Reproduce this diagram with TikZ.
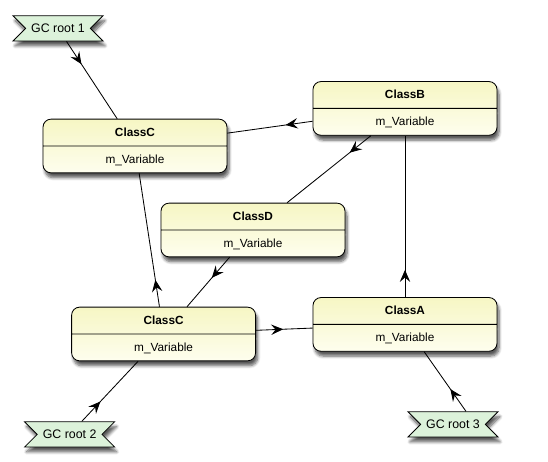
\documentclass[tikz,border=0pt]{standalone}
\usepackage{fontspec}
\setmainfont{Liberation Sans}
\usetikzlibrary{shapes.multipart,shapes.symbols,arrows.meta,decorations.markings,shadows.blur}

\definecolor{clstop}{RGB}{246,246,196}
\definecolor{clsbot}{RGB}{254,254,238}
\definecolor{rootfill}{RGB}{220,242,218}
\newcommand{\cstrut}{\rule[-0.12cm]{0pt}{0.42cm}}

\begin{document}
\begin{tikzpicture}[
  cls/.style={rectangle split, rectangle split parts=2, draw, line width=0.6pt,
    rounded corners=0.2cm, minimum width=4.6cm, inner ysep=0.115cm, align=center,
    top color=clstop, bottom color=clsbot,
    font=\fontsize{8.4}{10}\selectfont,
    blur shadow={shadow xshift=0.05cm, shadow yshift=-0.12cm, shadow blur steps=6, shadow opacity=65}},
  root/.style={signal, signal from=west and east, signal to=nowhere, draw, line width=0.6pt,
    fill=rootfill, minimum width=2.25cm, minimum height=0.63cm, inner sep=0pt,
    font=\fontsize{8.8}{10}\selectfont,
    blur shadow={shadow xshift=0.05cm, shadow yshift=-0.12cm, shadow blur steps=6, shadow opacity=65}},
  link/.style={line width=0.6pt, postaction={decorate},
    decoration={markings, mark=at position 0.68cm with {\arrow{Stealth[length=3mm, width=2.6mm, inset=1.1mm]}}}},
]
\useasboundingbox (0,0) rectangle (13.7,-11.55);

% ====== GC roots ======
\node[root] (gc1) at (1.45,-0.71) {GC root 1};
\node[root] (gc2) at (1.74,-10.86) {GC root 2};
\node[root] (gc3) at (11.325,-10.61) {GC root 3};

% ====== Classes ======
\node[cls] (clsCtop) at (3.375,-3.65) {\cstrut\textbf{ClassC}\nodepart{two}\cstrut m\_Variable};
\node[cls] (clsB) at (10.125,-2.71) {\cstrut\textbf{ClassB}\nodepart{two}\cstrut m\_Variable};
\node[cls] (clsD) at (6.325,-5.75) {\cstrut\textbf{ClassD}\nodepart{two}\cstrut m\_Variable};
\node[cls] (clsCbot) at (4.09,-8.35) {\cstrut\textbf{ClassC}\nodepart{two}\cstrut m\_Variable};
\node[cls] (clsA) at (10.125,-8.11) {\cstrut\textbf{ClassA}\nodepart{two}\cstrut m\_Variable};

% ====== References ======
\draw[link] (gc1) -- (clsCtop);
\draw[link] (clsB) -- (clsCtop);
\draw[link] (clsB) -- (clsD);
\draw[link] (clsA) -- (clsB);
\draw[link] (clsD) -- (clsCbot);
\draw[link] (clsCbot) -- (clsCtop);
\draw[link] (clsCbot) -- (clsA);
\draw[link] (gc2) -- (clsCbot);
\draw[link] (gc3.45) -- (clsA);

\end{tikzpicture}
\end{document}
